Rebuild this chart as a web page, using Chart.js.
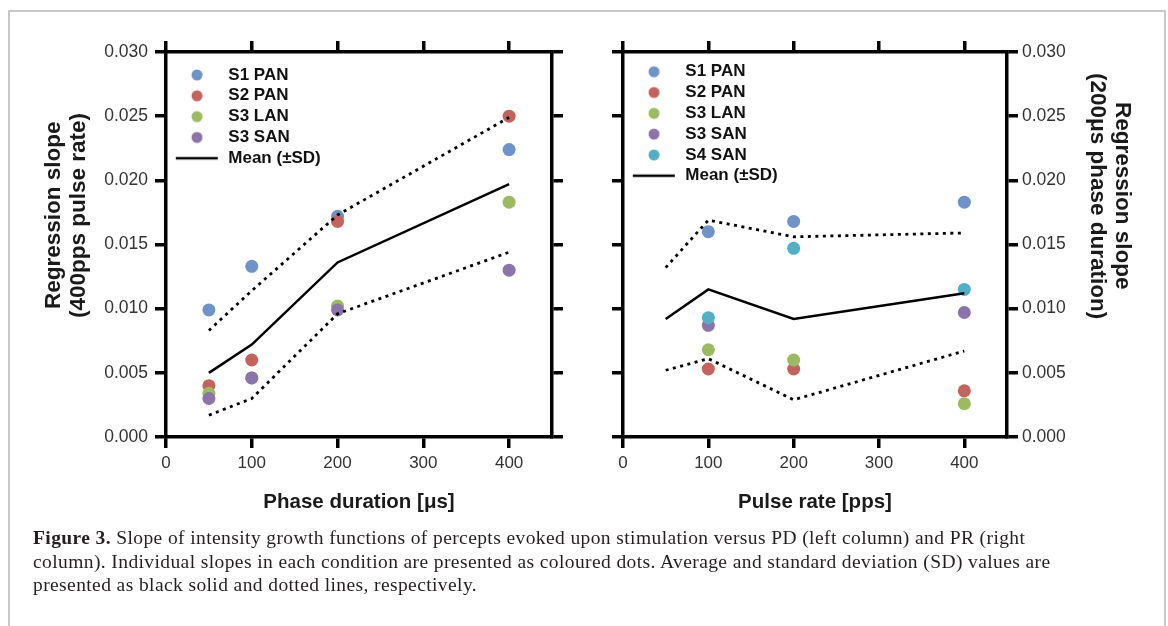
<!DOCTYPE html>
<html>
<head>
<meta charset="utf-8">
<script src="https://cdn.jsdelivr.net/npm/chart.js@4.4.1/dist/chart.umd.min.js"></script>
<style>
  html, body { margin: 0; padding: 0; background: #fff; }
  body { width: 1168px; height: 626px; position: relative; overflow: hidden; font-family: "Liberation Sans", Arial, sans-serif; }
  .frame { position: absolute; left: 8px; top: 10px; width: 1154px; height: 660px; border: 2px solid #c9c9c9; }
  .plot { position: absolute; top: 0; height: 540px; }
  #leftBox { left: 0; width: 580px; }
  #rightBox { left: 600px; width: 560px; }
  .ytitle { position: absolute; writing-mode: vertical-rl; font-weight: bold; font-size: 22.5px; line-height: 25px; text-align: center; color: #1a1a1a; white-space: nowrap; height: 300px; }
  #ytitleLeft { left: 40px; top: 65px; transform: rotate(180deg); }
  #ytitleRight { left: 1086px; top: 46px; }
  .caption { position: absolute; left: 33px; top: 526px; font-family: "Liberation Serif", "Times New Roman", serif; font-size: 19.5px; letter-spacing: 0.4px; line-height: 23.5px; color: #231f20; white-space: nowrap; }
</style>
</head>
<body>
<div class="frame"></div>
<div class="plot" id="leftBox"><canvas id="leftChart"></canvas></div>
<div class="plot" id="rightBox"><canvas id="rightChart"></canvas></div>
<div class="ytitle" id="ytitleLeft">Regression slope<br>(400pps pulse rate)</div>
<div class="ytitle" id="ytitleRight">Regression slope<br>(200μs phase duration)</div>
<div class="caption"><b>Figure 3.</b> Slope of intensity growth functions of percepts evoked upon stimulation versus PD (left column) and PR (right<br>column). Individual slopes in each condition are presented as coloured dots. Average and standard deviation (SD) values are<br>presented as black solid and dotted lines, respectively.</div>

<script>
const xTicks = [0, 100, 200, 300, 400];
const yTicks = [0, 0.005, 0.010, 0.015, 0.020, 0.025, 0.030];

// left panel: slope vs phase duration (400 pps)
const phaseDur = [50, 100, 200, 400];
const s1PanPD = [0.0099, 0.0133, 0.0172, 0.0224];
const s2PanPD = [0.0040, 0.0060, 0.0168, 0.0250];
const s3LanPD = [0.0034, 0.0046, 0.0102, 0.0183];
const s3SanPD = [0.0030, 0.0046, 0.0099, 0.0130];
const meanPD  = [0.0050, 0.0072, 0.0136, 0.0197];
const sdHiPD  = [0.0083, 0.0114, 0.0173, 0.0249];
const sdLoPD  = [0.0017, 0.0030, 0.0096, 0.0144];

// right panel: slope vs pulse rate (200 us)
const pulseRate = [50, 100, 200, 400];
const s1PanPR = [null, 0.0160, 0.0168, 0.0183];
const s2PanPR = [null, 0.0053, 0.0053, 0.0036];
const s3LanPR = [null, 0.0068, 0.0060, 0.0026];
const s3SanPR = [null, 0.0087, null, 0.0097];
const s4SanPR = [null, 0.0093, 0.0147, 0.0115];
const meanPR  = [0.0092, 0.0115, 0.0092, 0.0112];
const sdHiPR  = [0.0132, 0.0169, 0.0156, 0.0159];
const sdLoPR  = [0.0052, 0.0061, 0.0029, 0.0067];

const colors = {
  s1: '#6f93c8',
  s2: '#c4625d',
  s3l: '#9cba5f',
  s3s: '#8b74aa',
  s4: '#52afc6'
};

Chart.defaults.font.family = '"Liberation Sans", Arial, sans-serif';

const pts = (xs, ys) => xs.map((x, i) => ({ x: x, y: ys[i] }));

// little legend swatches: a dot, or the mean line
function marker(color, isLine) {
  const c = document.createElement('canvas');
  c.width = 50;
  c.height = 14;
  const ctx = c.getContext('2d');
  if (isLine) {
    ctx.strokeStyle = '#000';
    ctx.lineWidth = 2.5;
    ctx.beginPath();
    ctx.moveTo(6, 7);
    ctx.lineTo(48, 7);
    ctx.stroke();
  } else {
    ctx.fillStyle = color;
    ctx.beginPath();
    ctx.arc(27.2, 7, 5.5, 0, Math.PI * 2);
    ctx.fill();
  }
  return c;
}

function dots(label, color, xs, ys, order) {
  return {
    label: label, data: pts(xs, ys), showLine: false, order: order,
    backgroundColor: color, borderColor: color,
    pointRadius: 6.5, pointHoverRadius: 6.5, pointBorderWidth: 0
  };
}

function line(label, xs, ys, dashed) {
  return {
    label: label, data: pts(xs, ys), showLine: true, order: 0,
    borderColor: '#000', backgroundColor: '#000',
    borderWidth: dashed ? 2.8 : 2.5, borderDash: dashed ? [3, 4.5] : [],
    pointRadius: 0, pointHoverRadius: 0, tension: 0
  };
}

function axis(extra) {
  return Object.assign({
    type: 'linear',
    border: { display: true, color: '#000', width: 3.5 },
    grid: { drawOnChartArea: false, drawTicks: true, tickLength: 11, color: '#000', lineWidth: 3.5 }
  }, extra);
}

function makePanel(id, datasets, side, xTitle, legendGap) {
  const swatches = datasets.map(d => marker(d.backgroundColor, d.showLine));
  const yLabelled = axis({
    axis: 'y', position: side, min: 0, max: 0.03,
    afterBuildTicks: s => { s.ticks = yTicks.map(v => ({ value: v })); },
    afterFit: s => { s.width = side === 'left' ? 166 : 153; },
    ticks: { color: '#333', font: { size: 17.5 }, padding: side === 'left' ? 7 : 4, callback: v => v.toFixed(3) }
  });
  const yPlain = axis({
    axis: 'y', position: side === 'left' ? 'right' : 'left', min: 0, max: 0.03,
    afterBuildTicks: s => { s.ticks = yTicks.map(v => ({ value: v })); },
    afterFit: s => { s.width = 11; },
    ticks: { display: false }
  });
  const scales = {
    x: axis({
      axis: 'x', position: 'bottom', min: 0, max: 450,
      afterBuildTicks: s => { s.ticks = xTicks.map(v => ({ value: v })); },
      afterFit: s => { s.height = 103; },
      ticks: { color: '#333', font: { size: 17 }, padding: 5, maxRotation: 0, autoSkip: false },
      title: { display: true, text: xTitle, color: '#1a1a1a', font: { size: 20.5, weight: 'bold' }, padding: { top: 0, bottom: 25.7 } }
    }),
    xTop: axis({
      axis: 'x', position: 'top', min: 0, max: 450,
      afterBuildTicks: s => { s.ticks = xTicks.map(v => ({ value: v })); },
      afterFit: s => { s.height = 11; },
      ticks: { display: false }
    }),
    y: yLabelled,
    yOther: yPlain
  };

  new Chart(document.getElementById(id), {
    type: 'scatter',
    data: { datasets: datasets },
    options: {
      responsive: true,
      maintainAspectRatio: false,
      animation: false,
      events: [],
      layout: { padding: side === 'left' ? { left: 0, right: 17, top: 41, bottom: 0 } : { left: 12, right: 0, top: 41, bottom: 0 } },
      scales: scales,
      plugins: {
        tooltip: { enabled: false },
        legend: {
          position: 'chartArea',
          align: 'start',
          // a vertical legend box starts at the canvas top, so the empty title pushes it into the plot
          title: { display: true, text: '', font: { size: 1, lineHeight: 1 }, padding: { top: 52 + legendGap - 1, bottom: 0 } },
          labels: {
            usePointStyle: true,
            pointStyleWidth: 50,
            padding: 3.8,
            color: '#111',
            font: { size: 17, weight: 'bold' },
            filter: item => item.text !== '+SD' && item.text !== '-SD',
            sort: (a, b) => a.datasetIndex - b.datasetIndex,
            generateLabels: chart => Chart.defaults.plugins.legend.labels.generateLabels(chart)
              .map(item => Object.assign(item, { pointStyle: swatches[item.datasetIndex] }))
          }
        }
      }
    }
  });
}

makePanel('leftChart', [
  dots('S1 PAN', colors.s1, phaseDur, s1PanPD, 5),
  dots('S2 PAN', colors.s2, phaseDur, s2PanPD, 4),
  dots('S3 LAN', colors.s3l, phaseDur, s3LanPD, 3),
  dots('S3 SAN', colors.s3s, phaseDur, s3SanPD, 2),
  line('Mean (±SD)', phaseDur, meanPD, false),
  line('+SD', phaseDur, sdHiPD, true),
  line('-SD', phaseDur, sdLoPD, true)
], 'left', 'Phase duration [μs]', 10.7);

makePanel('rightChart', [
  dots('S1 PAN', colors.s1, pulseRate, s1PanPR, 5),
  dots('S2 PAN', colors.s2, pulseRate, s2PanPR, 4),
  dots('S3 LAN', colors.s3l, pulseRate, s3LanPR, 3),
  dots('S3 SAN', colors.s3s, pulseRate, s3SanPR, 2),
  dots('S4 SAN', colors.s4, pulseRate, s4SanPR, 1),
  line('Mean (±SD)', pulseRate, meanPR, false),
  line('+SD', pulseRate, sdHiPR, true),
  line('-SD', pulseRate, sdLoPR, true)
], 'right', 'Pulse rate [pps]', 7.4);
</script>
</body>
</html>
